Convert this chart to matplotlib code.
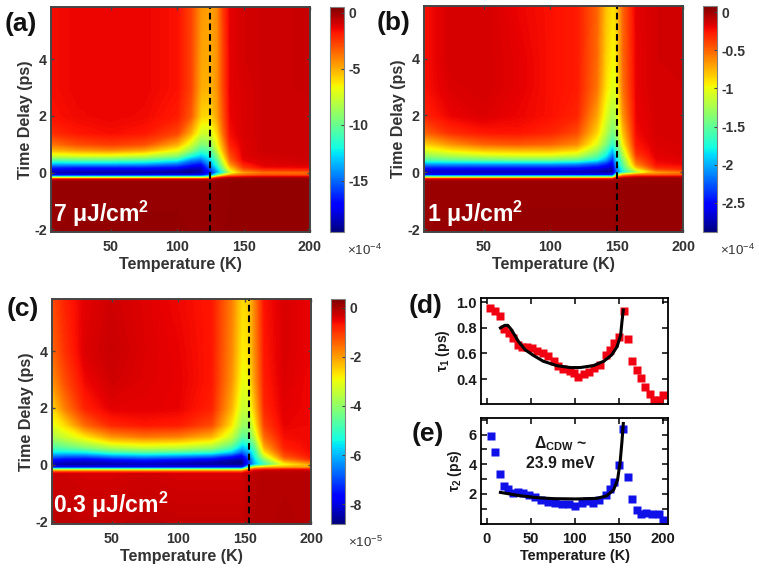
import numpy as np
import matplotlib
matplotlib.use("Agg")
import matplotlib.pyplot as plt
from matplotlib.cm import ScalarMappable
from matplotlib.colors import Normalize
from matplotlib.ticker import MultipleLocator

plt.rcParams['font.family'] = ['Liberation Sans', 'DejaVu Sans']
plt.rcParams['mathtext.default'] = 'regular'
plt.rcParams['axes.unicode_minus'] = False

W, H = 759, 575
INK = '#333333'
FRAME = '#454545'

# Pump-probe delay rows (ps) shared by the three maps
delays = [-2.1, -0.32, -0.24, -0.18, -0.1, 0, 0.1, 0.2, 0.3, 0.45, 0.6, 0.8, 1.0, 1.4, 2, 3, 4, 5.85]

# (a) 7 uJ/cm2, dR/R in units of 1e-4
temps_a = [5, 25, 50, 75, 100, 110, 118, 125, 130, 135, 140, 150, 165, 200]
map_a = [
    [.1, .15, .15, .15, .15, .1, .1, .1, .1, .1, .15, .15, .15, .15],
    [.05, .05, .05, .05, .05, .05, .05, .05, .1, .1, .1, .15, .15, .15],
    [-1.2, -1.2, -1.2, -1.2, -1.2, -1.2, -1.2, -1.2, -.6, -.2, 0, .05, .05, .05],
    [-8, -8, -8, -8, -8, -8, -8, -7, -3, -1.5, -.9, -.7, -.5, -.5],
    [-17.5, -17.5, -17.5, -17.5, -17.5, -17.5, -17.5, -15, -10, -6.5, -4.5, -3.5, -3, -3],
    [-18.8, -19, -19.2, -19.2, -19.2, -19.5, -19, -17, -14, -11.5, -8, -5, -4, -3.8],
    [-17.8, -18, -18, -18, -18.5, -19, -18.8, -16, -13.5, -10, -6.5, -3.5, -2.5, -2.2],
    [-16, -16.3, -16.3, -16.3, -16.8, -17.8, -18.2, -15, -12.5, -9, -5.5, -2.5, -1.5, -1.4],
    [-13.8, -13.8, -13.8, -14, -15, -16.3, -17, -14, -11.5, -8, -4.5, -2, -1.2, -1.1],
    [-10.5, -10.3, -10.3, -10.6, -12, -14.3, -15, -13, -10.5, -7, -3.5, -1.4, -1.1, -.9],
    [-7.5, -7.2, -7.2, -7.7, -9.2, -11.7, -13, -12, -9.5, -6, -3, -1.2, -1, -.9],
    [-5.2, -4.6, -4.2, -4.8, -6.8, -9, -11, -10.5, -8, -5, -2.5, -1.2, -.9, -.9],
    [-3.8, -3, -2.6, -3, -5, -7.4, -9.5, -9, -7, -4.5, -2, -1.2, -.9, -.9],
    [-2.3, -1.8, -1.6, -1.8, -2.8, -5, -7.5, -7.5, -6, -3.5, -1.6, -1.1, -.9, -.9],
    [-1.7, -1.5, -1.4, -1.5, -1.9, -3.2, -5.8, -6, -4.8, -3, -1.4, -1.1, -.9, -.9],
    [-1.6, -1.4, -1.4, -1.4, -1.7, -2.7, -5, -5.2, -4.5, -2.7, -1.3, -1.1, -.9, -.8],
    [-1.6, -1.4, -1.4, -1.4, -1.7, -2.7, -4.8, -5, -4.5, -2.7, -1.3, -1, -.9, -.8],
    [-1.6, -1.4, -1.4, -1.4, -1.7, -2.7, -4.5, -4.8, -4.3, -2.5, -1.3, -1, -.9, -.8],
]
ticks_a = [0, -5, -10, -15]
range_a = (-19.6, 0.5)
tc_a = 125

# (b) 1 uJ/cm2, dR/R in units of 1e-4
temps_b = [5, 25, 50, 75, 100, 120, 135, 142, 147, 150, 155, 165, 180, 200]
map_b = [
    [.01, .02, .02, .02, .02, .02, .02, .02, .02, .02, .02, .02, .02, .02],
    [0, 0, 0, 0, 0, 0, 0, 0, 0, .01, .01, .01, .01, .01],
    [-.2, -.2, -.2, -.2, -.2, -.2, -.2, -.2, -.2, -.06, 0, .01, .01, .01],
    [-1.2, -1.2, -1.2, -1.2, -1.2, -1.2, -1.2, -1.2, -1.2, -.45, -.2, -.1, -.08, -.08],
    [-2.5, -2.5, -2.5, -2.5, -2.5, -2.5, -2.5, -2.5, -2.5, -1.3, -.75, -.5, -.5, -.45],
    [-2.75, -2.75, -2.78, -2.78, -2.78, -2.78, -2.8, -2.82, -2.82, -2.3, -1.8, -1.3, -.75, -.6],
    [-2.6, -2.6, -2.62, -2.62, -2.62, -2.62, -2.68, -2.75, -2.8, -2.2, -1.7, -1, -.45, -.35],
    [-2.35, -2.35, -2.35, -2.35, -2.35, -2.38, -2.48, -2.6, -2.7, -2.1, -1.6, -.75, -.3, -.26],
    [-2.05, -2.05, -2.05, -2.05, -2.05, -2.1, -2.25, -2.4, -2.6, -2, -1.5, -.6, -.24, -.2],
    [-1.55, -1.5, -1.45, -1.42, -1.42, -1.5, -1.75, -2.05, -2.4, -1.9, -1.4, -.48, -.2, -.18],
    [-1.3, -1.2, -1.1, -1.05, -1.05, -1.15, -1.5, -1.8, -2.2, -1.8, -1.25, -.38, -.18, -.16],
    [-1.05, -.9, -.78, -.75, -.75, -.85, -1.25, -1.6, -1.95, -1.65, -1.1, -.3, -.17, -.15],
    [-.85, -.65, -.5, -.46, -.5, -.62, -1.05, -1.4, -1.7, -1.5, -.95, -.26, -.16, -.15],
    [-.5, -.33, -.26, -.25, -.3, -.42, -.85, -1.2, -1.45, -1.3, -.8, -.22, -.15, -.14],
    [-.3, -.2, -.16, -.2, -.24, -.3, -.7, -1.05, -1.25, -1.15, -.65, -.2, -.15, -.14],
    [-.24, -.16, -.14, -.18, -.24, -.27, -.55, -.9, -1.05, -1, -.55, -.19, -.14, -.14],
    [-.24, -.14, -.14, -.18, -.24, -.27, -.52, -.85, -.98, -.92, -.52, -.19, -.14, -.13],
    [-.24, -.14, -.14, -.2, -.24, -.27, -.5, -.8, -.9, -.85, -.5, -.18, -.14, -.13],
]
ticks_b = [0, -0.5, -1, -1.5, -2, -2.5]
range_b = (-2.88, 0.08)
tc_b = 150

# (c) 0.3 uJ/cm2, dR/R in units of 1e-5
temps_c = [5, 15, 30, 50, 75, 100, 125, 140, 148, 153, 158, 165, 180, 200]
map_c = [
    [-.15, -.15, -.2, -.2, -.15, -.2, -.2, -.2, -.2, -.15, -.1, -.1, -.05, -.1],
    [-.3, -.3, -.35, -.35, -.3, -.35, -.35, -.35, -.35, -.2, -.15, -.1, -.1, -.1],
    [-1.6, -1.6, -1.6, -1.6, -1.6, -1.6, -1.6, -1.6, -1.6, -.8, -.3, -.2, -.2, -.2],
    [-3.8, -3.8, -3.8, -3.8, -3.8, -3.8, -3.8, -3.8, -3.8, -1.7, -.9, -.7, -.6, -.6],
    [-7.8, -7.8, -7.8, -7.8, -7.8, -7.8, -7.8, -7.8, -7.8, -4.5, -2.9, -2.4, -2.2, -2.1],
    [-8.4, -8.5, -8.5, -8.4, -8.3, -8.4, -8.5, -8.6, -8.7, -7.3, -6, -5, -3, -2.2],
    [-8, -8.2, -8.3, -8.2, -8, -8.2, -8.4, -8.6, -8.7, -7.4, -5.8, -4.6, -2.4, -1.5],
    [-7.4, -7.6, -7.7, -7.4, -7.2, -7.4, -7.7, -8.2, -8.4, -7.2, -5.6, -4, -1.7, -.9],
    [-6.6, -6.8, -6.8, -6.4, -6.2, -6.4, -6.7, -7.4, -7.9, -6.8, -5.3, -3.4, -1.3, -.7],
    [-5.5, -5.5, -5.4, -4.8, -4.6, -4.7, -5, -5.8, -6.8, -6.2, -5, -2.7, -1, -.6],
    [-4.8, -4.6, -4.2, -3.7, -3.4, -3.5, -3.9, -4.8, -6, -5.6, -4.6, -2.2, -.8, -.55],
    [-4.2, -3.9, -3.4, -2.7, -2.5, -2.6, -3, -4, -5.2, -5, -4, -1.8, -.7, -.55],
    [-3.7, -3.3, -2.7, -1.9, -1.6, -1.7, -2.2, -3.4, -4.6, -4.5, -3.4, -1.5, -.6, -.55],
    [-3.1, -2.6, -1.5, -.85, -.7, -.75, -1.2, -2.7, -3.9, -3.9, -2.8, -1.1, -.5, -.55],
    [-2.6, -1.7, -.8, -.45, -.45, -.5, -.8, -2.2, -3.4, -3.3, -2.3, -.85, -.45, -.55],
    [-1.9, -1.2, -.55, -.3, -.42, -.48, -.7, -1.9, -3, -2.9, -1.9, -.75, -.4, -.55],
    [-1.5, -.95, -.4, -.25, -.4, -.5, -.7, -1.8, -2.8, -2.7, -1.8, -.7, -.38, -.5],
    [-1.2, -.8, -.45, -.3, -.42, -.55, -.7, -1.7, -2.6, -2.5, -1.7, -.65, -.38, -.5],
]
ticks_c = [0, -2, -4, -6, -8]
range_c = (-8.8, 0.35)
tc_c = 153.5

# (d) fast relaxation time
temp_d = [4, 9, 15, 20, 25, 30, 36, 40, 46, 51, 57, 64, 70, 76, 81, 87, 94, 99, 104, 110,
          116, 122, 129, 135, 140, 145, 150, 156, 160, 165, 170, 175, 180, 185, 190, 195, 200]
tau1 = [.955, .93, .89, .79, .76, .72, .67, .65, .65, .64, .62, .60, .58, .54, .50, .48, .465, .45,
        .42, .44, .455, .49, .51, .59, .625, .68, .73, .93, .71, .54, .47, .405, .335, .28, .235, .235, .275]
fit_temp_d = [15.6, 20.5, 24, 28, 36, 43.5, 53, 64, 79.5, 95, 106, 121, 133, 142, 148, 152, 153.5, 155]
fit_tau1 = [.80, .82, .82, .787, .695, .63, .585, .54, .505, .49, .49, .505, .54, .59, .655, .745, .85, .94]

# (e) slow relaxation time
temp_e = [5, 10, 15, 20, 24.5, 30, 36, 41, 48, 55, 62, 70, 77.5, 85, 93, 100, 108, 114, 121,
          127, 135, 140, 145, 150, 155, 160, 165, 170, 175, 181, 188, 195, 200]
tau2 = [5.93, 4.82, 3.35, 2.55, 2.33, 2.08, 2.15, 2.05, 1.93, 1.78, 1.6, 1.48, 1.38, 1.33, 1.3, 1.2,
        1.4, 1.52, 1.38, 1.6, 1.9, 2.33, 2.8, 3.95, 6.35, 3.15, 1.63, .9, .65, .68, .67, .63, .25]
fit_temp_e = [15.6, 37.6, 56.6, 75.6, 102, 125, 136, 144, 148.5, 151.5, 153.5, 155]
fit_tau2 = [2.1, 1.88, 1.75, 1.68, 1.66, 1.7, 1.87, 2.27, 2.95, 4.2, 5.55, 6.75]


def px_axes(x0, y0, x1, y1):
    """Axes placed by pixel edges measured from the top-left corner."""
    return fig.add_axes([x0 / W, 1 - y1 / H, (x1 - x0) / W, (y1 - y0) / H])


def heat_panel(box, cbox, temps, table, vrange, ticks, tc, exponent, note, note_xy):
    ax = px_axes(*box)
    vmin, vmax = vrange
    levels = np.linspace(vmin, vmax, 257)
    ax.contourf(temps, delays, np.array(table), levels=levels, cmap='jet',
                extend='both', antialiased=False)
    ax.plot([tc, tc], [-2.1, 5.85], color='black', lw=1.5, dashes=(3.2, 1.9))
    ax.set_xlim(5, 200)
    ax.set_ylim(-2.1, 5.85)
    ax.set_xticks([50, 100, 150, 200])
    ax.set_yticks([-2, 0, 2, 4])
    ax.tick_params(direction='in', length=2.5, width=1, top=True, right=True, color=FRAME,
                   labelsize=10.3, labelcolor=INK)
    ax.tick_params(axis='x', pad=6)
    ax.tick_params(axis='y', pad=3)
    for label in ax.get_xticklabels() + ax.get_yticklabels():
        label.set_fontweight('bold')
    for spine in ax.spines.values():
        spine.set_color(FRAME)
        spine.set_linewidth(1.4)
    ax.set_xlabel('Temperature (K)', fontsize=11.6, fontweight='bold', color=INK, labelpad=2)
    ax.set_ylabel('Time Delay (ps)', fontsize=11.6, fontweight='bold', color=INK, labelpad=1)
    fig.text(note_xy[0] / W, 1 - note_xy[1] / H, note, color='white', fontsize=16.6,
             fontweight='bold', va='baseline', ha='left')

    cax = px_axes(*cbox)
    cb = fig.colorbar(ScalarMappable(Normalize(vmin, vmax), 'jet'), cax=cax)
    cb.set_ticks(ticks)
    cb.set_ticklabels([f'{t:g}' for t in ticks])
    cax.tick_params(direction='in', length=2, width=0.8, color=FRAME, labelsize=10,
                    labelcolor=INK, pad=3)
    for label in cax.get_yticklabels():
        label.set_fontweight('bold')
    cb.outline.set_edgecolor('#808080')
    cb.outline.set_linewidth(0.8)
    fig.text((cbox[0] + 17) / W, 1 - (cbox[3] + 23) / H, f'×10$^{{{exponent}}}$', fontsize=9.6,
             color=INK, va='baseline', ha='left')


def line_panel(box, temps, values, color, fit_t, fit_v, ylim, major, minor, ylabel):
    ax = px_axes(*box)
    ax.plot(temps, values, ls='none', marker='s', ms=5.7, mec='none', color=color, clip_on=True)
    ax.plot(fit_t, fit_v, color='black', lw=2.2)
    ax.set_xlim(-6.4, 205.7)
    ax.set_ylim(*ylim)
    ax.set_xticks([0, 50, 100, 150, 200])
    ax.set_yticks(major)
    ax.yaxis.set_minor_locator(MultipleLocator(minor))
    ax.tick_params(which='both', direction='in', length=4, width=1.1, top=True, right=True,
                   labelsize=10.6, color='black', labelcolor='#1a1a1a')
    ax.tick_params(axis='x', pad=6)
    ax.tick_params(axis='y', pad=3)
    for label in ax.get_xticklabels() + ax.get_yticklabels():
        label.set_fontweight('bold')
    for spine in ax.spines.values():
        spine.set_linewidth(1.3)
    ax.set_ylabel(ylabel, fontsize=10, fontweight='bold', color='#1a1a1a', labelpad=3)
    return ax


fig = plt.figure(figsize=(W / 100, H / 100), dpi=100)

heat_panel((51, 7, 310, 232), (330, 7, 344, 232), temps_a, map_a, range_a, ticks_a, tc_a, -4,
           '7 μJ/cm$^2$', (53, 222))
heat_panel((424, 6, 683, 232), (703, 6, 717, 232), temps_b, map_b, range_b, ticks_b, tc_b, -4,
           '1 μJ/cm$^2$', (427, 222))
heat_panel((52, 299, 311, 524), (331, 299, 345, 524), temps_c, map_c, range_c, ticks_c, tc_c, -5,
           '0.3 μJ/cm$^2$', (53, 513))

ax_d = line_panel((481, 298, 668, 404), temp_d, tau1, '#f00010', fit_temp_d, fit_tau1,
                  (0.205, 1.034), [0.4, 0.6, 0.8, 1.0], 0.2, 'τ$_1$ (ps)')
ax_d.set_yticklabels(['0.4', '0.6', '0.8', '1.0'])
ax_d.set_xticklabels([])

ax_e = line_panel((481, 418, 668, 524), temp_e, tau2, '#1010e8', fit_temp_e, fit_tau2,
                  (-0.03, 7.12), [2, 4, 6], 1, 'τ$_2$ (ps)')
ax_e.set_xlabel('Temperature (K)', fontsize=10.4, fontweight='bold', color='#1a1a1a', labelpad=2)
ax_e.text(84, 4.75, 'Δ$_{CDW}$ ~\n23.9 meV', fontsize=11.3, fontweight='bold', color='#1a1a1a',
          ha='center', va='center', linespacing=1.25)

# Panel letters
for letter, x, y in [('(a)', 5, 31), ('(b)', 377, 30), ('(c)', 7, 316), ('(d)', 409, 313), ('(e)', 412, 441)]:
    fig.text(x / W, 1 - y / H, letter, fontsize=19, fontweight='bold', color='#111111',
             va='baseline', ha='left')

fig.savefig('out.png', dpi=100)
